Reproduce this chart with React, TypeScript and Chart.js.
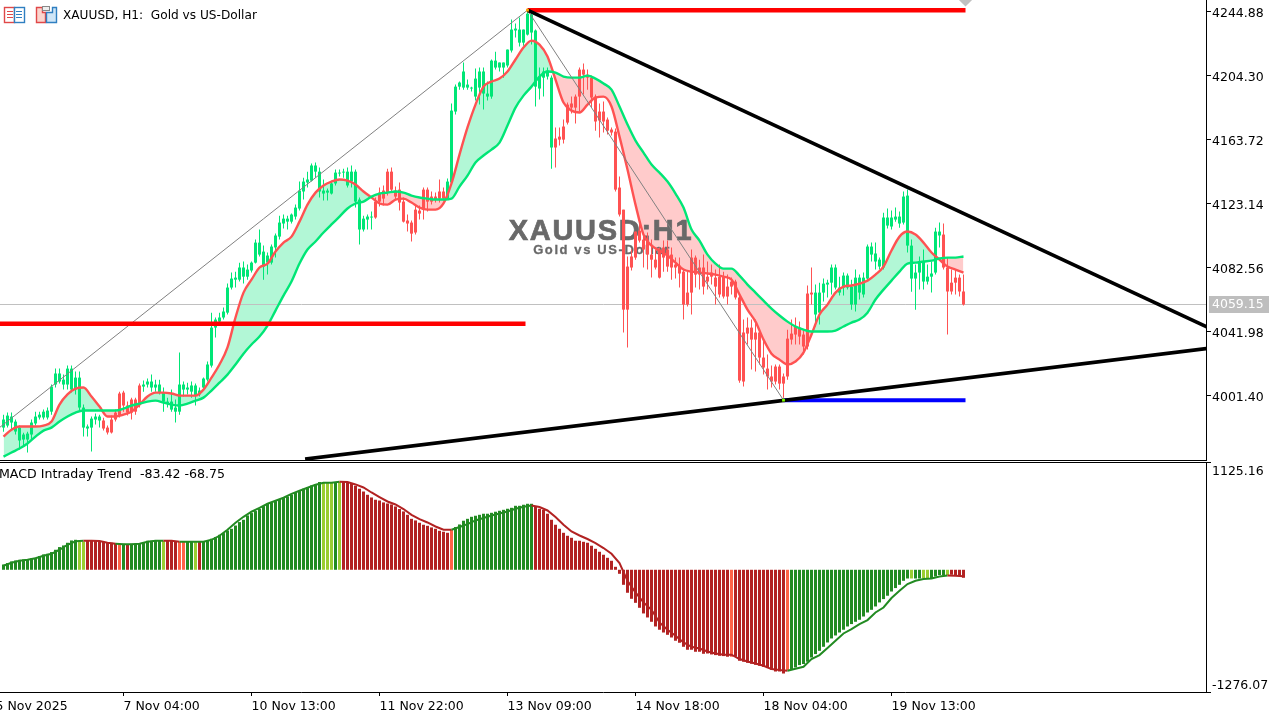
import React, { useEffect, useRef } from "react";
import { Chart, registerables } from "chart.js";

Chart.register(...registerables);

const candleHigh = [
3989.3,3990.6,3990.6,3986.2,3982.4,3977.9,3978.5,3986.2,3991.2,3991.2,
3992.5,3993.8,4008.4,4018.5,4018.5,4014.7,4020.4,4020.4,4016.6,4016.6,
3995.7,3983.0,3988.1,3990.0,3989.3,3987.4,3982.4,3988.7,3992.5,4003.9,
4004.5,3997.6,4000.1,4000.1,4009.0,4010.9,4012.2,4014.7,4011.5,4011.5,
4006.5,4000.1,4005.2,3998.9,4028.7,4010.3,4009.6,4010.3,4009.0,4006.5,
4012.8,4023.0,4054.0,4050.9,4054.0,4057.2,4072.4,4079.4,4080.0,4085.7,
4086.4,4084.5,4086.4,4100.3,4106.7,4096.5,4092.1,4097.2,4104.1,4115.5,
4116.2,4115.5,4116.8,4122.5,4137.1,4139.6,4143.4,4148.5,4149.2,4146.0,
4138.4,4132.7,4137.7,4144.7,4144.7,4145.3,4146.0,4147.3,4144.7,4127.0,
4115.5,4116.2,4118.1,4127.0,4133.3,4134.6,4145.3,4146.0,4134.0,4136.5,
4127.0,4116.2,4112.4,4122.5,4121.9,4133.3,4133.3,4130.8,4130.1,4138.4,
4133.3,4139.0,4186.6,4198.6,4200.5,4212.6,4201.8,4197.3,4208.8,4209.4,
4209.4,4200.5,4214.5,4219.5,4212.6,4212.6,4220.8,4239.8,4237.3,4241.1,
4233.5,4245.8,4243.6,4233.5,4209.4,4209.4,4209.4,4204.3,4171.4,4171.4,
4176.4,4187.2,4191.0,4192.3,4209.4,4211.9,4208.1,4204.3,4192.3,4186.6,
4187.8,4177.7,4171.4,4170.7,4140.3,4119.3,4089.6,4094.0,4105.4,4111.7,
4104.8,4104.8,4100.3,4094.0,4095.3,4099.7,4099.7,4095.3,4088.9,4088.9,
4081.3,4080.0,4094.0,4090.2,4087.6,4090.8,4086.4,4084.5,4081.3,4084.5,
4080.0,4078.1,4076.2,4074.9,4064.8,4049.6,4050.9,4049.6,4049.6,4043.2,
4036.9,4027.4,4020.4,4021.1,4021.1,4015.4,4043.2,4049.6,4050.9,4048.3,
4043.2,4071.2,4082.6,4071.8,4073.0,4075.6,4074.9,4084.5,4084.5,4076.8,
4079.4,4078.8,4074.9,4081.3,4078.1,4079.4,4097.2,4098.4,4098.4,4088.9,
4117.4,4120.0,4118.7,4120.6,4118.1,4130.8,4132.0,4100.3,4084.5,4089.6,
4094.0,4084.5,4086.4,4107.9,4111.1,4110.5,4088.9,4081.3,4081.3,4078.1,
4078.1];

const candleLow = [
3978.5,3981.1,3979.8,3976.7,3967.2,3969.1,3965.3,3973.5,3982.4,3986.2,
3986.2,3986.2,3989.3,4006.5,4009.0,4005.2,4005.2,4003.3,4002.1,3991.2,
3975.4,3975.4,3965.9,3983.0,3981.1,3979.2,3976.7,3977.3,3984.9,3987.5,
3991.2,3988.7,3986.2,3989.3,3993.8,4003.9,4006.5,4003.9,4003.9,4002.1,
3991.2,3993.8,3991.2,3984.3,3989.3,4000.8,4002.1,4000.1,3995.1,4000.8,
4005.2,4010.3,4019.2,4038.2,4046.4,4049.6,4052.8,4068.6,4069.9,4073.7,
4072.4,4074.9,4079.4,4085.1,4089.6,4074.9,4078.1,4084.5,4088.9,4100.3,
4107.3,4106.7,4110.5,4113.0,4118.7,4125.7,4133.3,4137.1,4139.6,4127.0,
4125.1,4125.1,4128.9,4134.6,4140.3,4139.6,4133.3,4133.3,4120.6,4097.2,
4105.4,4106.7,4106.7,4113.6,4121.3,4121.9,4128.2,4130.1,4125.7,4118.7,
4111.1,4105.4,4099.1,4103.5,4113.0,4113.0,4118.1,4122.5,4123.8,4123.8,
4125.1,4125.7,4134.6,4179.6,4195.4,4195.4,4195.4,4194.2,4188.5,4185.9,
4182.8,4188.5,4189.7,4208.1,4206.9,4203.0,4209.4,4218.9,4228.4,4222.7,
4223.3,4229.7,4224.0,4184.7,4189.1,4191.0,4201.8,4145.3,4146.0,4159.9,
4161.2,4173.3,4180.2,4173.9,4181.5,4192.3,4195.4,4184.0,4169.4,4165.0,
4168.2,4166.9,4166.3,4130.8,4114.9,4041.4,4031.9,4080.7,4087.6,4098.4,
4082.6,4081.3,4076.2,4081.3,4075.6,4080.0,4080.0,4074.9,4075.6,4069.9,
4049.6,4057.9,4052.8,4069.9,4068.6,4065.5,4068.6,4071.8,4059.1,4063.6,
4062.9,4059.1,4065.5,4062.3,4009.6,4007.1,4033.8,4017.9,4016.6,4021.1,
4014.7,4005.2,4006.5,4008.4,4005.2,4000.1,4011.5,4033.8,4033.8,4033.8,
4027.4,4030.6,4059.1,4045.2,4046.4,4061.0,4063.6,4065.5,4068.6,4064.8,
4064.8,4068.6,4055.9,4054.7,4062.3,4063.6,4074.3,4086.4,4081.3,4081.3,
4081.3,4107.3,4106.7,4111.7,4107.9,4109.9,4092.1,4067.3,4055.9,4068.6,
4068.6,4071.8,4066.7,4078.1,4095.3,4081.3,4040.1,4065.5,4065.5,4064.2,
4058.5];

const bodyHigh = [
3986.2,3988.7,3988.1,3984.9,3981.1,3976.7,3977.3,3984.3,3988.1,3989.3,
3991.2,3991.9,4007.1,4015.4,4015.4,4011.5,4018.5,4018.5,4012.8,4012.8,
3993.8,3981.8,3986.8,3988.1,3988.1,3985.6,3981.1,3986.2,3990.6,4002.7,
4003.3,3995.1,3998.9,3998.9,4007.8,4008.4,4010.3,4010.3,4008.4,4008.4,
4003.3,3997.6,3997.6,3993.8,4008.4,4008.4,4006.5,4007.8,4007.8,4004.6,
4012.2,4021.1,4044.5,4049.6,4050.9,4054.7,4069.9,4075.6,4076.2,4082.6,
4082.6,4081.3,4085.7,4098.4,4098.4,4092.7,4090.2,4095.9,4102.9,4111.1,
4113.6,4113.6,4116.2,4120.6,4131.4,4137.1,4138.4,4147.3,4147.3,4143.4,
4131.4,4131.4,4135.9,4142.8,4142.8,4143.4,4143.4,4143.4,4143.4,4125.7,
4113.6,4114.9,4114.9,4124.4,4130.1,4131.4,4143.4,4143.4,4131.4,4132.0,
4124.4,4112.4,4111.1,4119.3,4118.7,4132.0,4132.0,4127.6,4127.6,4130.8,
4130.8,4137.1,4182.1,4197.3,4199.9,4206.9,4198.6,4196.7,4202.4,4206.9,
4206.9,4192.9,4213.8,4213.8,4212.6,4212.6,4220.8,4233.5,4234.1,4233.5,
4233.5,4243.6,4243.0,4232.9,4203.7,4206.9,4207.5,4203.0,4164.4,4165.6,
4172.0,4185.9,4186.6,4191.0,4208.1,4208.1,4204.9,4203.0,4191.0,4181.5,
4181.5,4176.4,4170.1,4168.8,4133.3,4119.3,4083.2,4089.6,4105.4,4106.0,
4100.3,4100.3,4090.8,4087.6,4094.0,4095.3,4094.0,4090.8,4084.5,4083.8,
4080.0,4066.7,4088.9,4088.9,4082.6,4082.6,4076.8,4079.4,4076.2,4076.8,
4076.8,4070.5,4073.7,4073.7,4063.6,4041.4,4044.5,4044.5,4041.4,4041.4,
4025.5,4018.5,4013.5,4019.8,4019.8,4013.5,4037.5,4040.7,4045.2,4044.5,
4040.1,4066.1,4066.7,4066.7,4066.7,4072.4,4073.0,4082.6,4082.6,4069.9,
4077.5,4077.5,4070.5,4076.2,4076.2,4076.2,4095.9,4095.9,4091.5,4087.6,
4114.3,4114.3,4114.3,4114.9,4114.9,4127.6,4128.2,4096.5,4079.4,4086.4,
4086.4,4076.8,4078.8,4105.4,4105.4,4103.5,4082.6,4073.0,4076.2,4076.2,
4067.4];

const bodyLow = [
3981.1,3982.4,3984.3,3978.6,3972.9,3973.5,3973.5,3976.7,3983.7,3987.5,
3987.5,3987.5,3991.2,4008.4,4010.3,4008.4,4008.4,4005.2,4005.2,3993.8,
3981.1,3980.5,3981.1,3986.2,3985.6,3980.5,3978.0,3978.0,3986.2,3988.7,
3995.1,3990.6,3990.6,3991.2,3996.3,4007.1,4008.4,4006.5,4006.5,4003.3,
3997.6,3996.3,3992.5,3991.2,3991.2,4005.2,4005.2,4003.9,4001.4,4002.1,
4006.5,4011.5,4020.4,4044.5,4048.3,4050.9,4054.0,4069.9,4074.9,4074.9,
4076.8,4076.8,4080.7,4085.7,4090.8,4083.2,4085.7,4085.7,4095.3,4102.2,
4110.5,4111.7,4111.7,4114.9,4120.0,4130.8,4136.5,4137.7,4143.4,4130.8,
4129.5,4130.1,4129.5,4135.9,4142.2,4142.8,4134.6,4137.1,4124.4,4106.7,
4106.7,4113.0,4114.3,4114.3,4124.4,4126.3,4130.1,4132.0,4127.6,4123.8,
4111.7,4110.5,4104.1,4104.8,4116.8,4119.3,4124.4,4124.4,4125.7,4126.3,
4126.3,4126.3,4136.5,4181.5,4197.3,4196.7,4196.7,4196.1,4191.0,4196.7,
4192.9,4191.0,4191.0,4209.4,4209.4,4209.4,4210.7,4220.2,4232.9,4225.2,
4225.2,4230.3,4231.6,4197.3,4196.1,4203.0,4203.7,4158.7,4158.7,4163.7,
4163.7,4174.5,4184.0,4184.0,4191.0,4204.9,4203.0,4190.4,4175.2,4175.8,
4175.2,4169.4,4168.2,4132.0,4116.2,4055.9,4055.9,4082.6,4088.9,4099.7,
4094.0,4090.8,4087.6,4082.6,4076.2,4088.9,4083.2,4082.6,4082.6,4078.8,
4059.1,4059.1,4066.7,4078.1,4078.1,4070.5,4073.7,4076.8,4070.5,4065.5,
4064.2,4064.2,4070.5,4063.6,4010.9,4010.3,4040.7,4036.9,4036.9,4025.5,
4019.2,4013.5,4010.3,4010.3,4009.0,4009.0,4013.5,4036.9,4040.1,4038.8,
4032.5,4032.5,4065.5,4052.8,4054.0,4066.7,4071.8,4073.0,4069.9,4066.7,
4069.9,4069.9,4059.1,4059.1,4066.7,4065.5,4075.6,4090.8,4086.4,4083.2,
4082.6,4109.2,4108.6,4113.0,4110.5,4111.1,4096.5,4075.6,4075.6,4079.4,
4073.7,4073.7,4076.8,4079.4,4102.9,4082.6,4067.4,4067.4,4073.0,4067.4,
4059.15];

// trend colouring of the candles, as [tone, bar count]
const candleRuns: [string, number][] = [
  ["up", 25], ["down", 10], ["up", 58], ["down", 18], ["up", 27], ["down", 65], ["up", 32], ["down", 6],
];

// moving averages, read at every second bar
const fastMA = [
3975.4,3979.8,3981.8,3981.8,3981.8,3982.4,3984.9,3995.7,4002.1,4005.8,
4006.5,4000.8,3994.4,3988.1,3988.1,3989.3,3991.2,3995.7,4000.8,4003.3,
4003.3,4002.7,4001.4,4001.4,4001.4,4005.2,4012.8,4021.1,4031.9,4050.9,
4066.7,4074.9,4082.6,4085.1,4092.7,4098.4,4102.2,4111.7,4122.5,4130.1,
4134.6,4137.1,4138.4,4137.7,4135.2,4130.8,4127.0,4123.2,4122.5,4125.7,
4126.3,4123.8,4120.6,4119.3,4119.3,4123.2,4135.9,4154.2,4171.4,4185.9,
4197.3,4200.5,4202.4,4206.9,4214.5,4222.1,4226.5,4224.0,4216.4,4201.8,
4187.2,4182.1,4180.9,4185.9,4190.4,4191.0,4184.7,4165.6,4144.7,4122.5,
4103.5,4096.5,4093.4,4090.2,4085.7,4081.3,4080.0,4079.4,4078.8,4078.1,
4076.8,4074.9,4065.5,4055.9,4048.3,4036.9,4028.0,4024.2,4021.1,4023.0,
4028.7,4040.1,4052.8,4059.1,4066.7,4070.5,4071.2,4072.4,4074.3,4078.1,
4083.2,4093.4,4102.2,4105.4,4103.5,4098.4,4092.1,4087.6,4083.2,4081.3,
4079.4];

const slowMA = [
3962.7,3965.3,3967.8,3971.0,3975.4,3979.2,3981.1,3984.9,3988.1,3990.6,
3991.9,3991.9,3991.9,3991.9,3991.9,3993.1,3995.1,3996.3,3997.6,3998.2,
3997.0,3995.7,3995.1,3996.3,3998.2,4000.1,4004.6,4009.6,4014.7,4021.1,
4028.0,4033.8,4038.8,4045.8,4055.3,4064.8,4073.7,4085.1,4094.0,4099.1,
4104.8,4109.9,4114.9,4120.0,4123.2,4124.4,4127.6,4129.5,4130.1,4130.8,
4130.1,4128.2,4127.0,4126.3,4125.7,4125.7,4126.3,4133.9,4140.9,4149.2,
4153.6,4157.4,4161.8,4172.6,4184.0,4191.6,4197.3,4203.7,4206.9,4206.2,
4203.7,4203.0,4203.0,4204.3,4202.4,4199.3,4195.4,4184.7,4173.3,4163.1,
4155.5,4147.9,4142.8,4137.1,4129.5,4120.6,4106.7,4099.7,4090.8,4085.1,
4081.9,4081.9,4077.5,4071.8,4066.7,4061.6,4056.6,4052.2,4048.3,4045.2,
4043.2,4042.0,4042.0,4042.0,4042.6,4045.2,4047.7,4049.6,4054.0,4062.3,
4068.6,4074.3,4080.0,4085.1,4085.7,4086.4,4087.0,4088.3,4088.9,4088.9,
4089.6];

const macdHist = [
55,70,87,97,104,108,108,118,125,143,
160,167,185,209,237,254,282,306,313,306,
295,303,303,300,295,292,289,282,277,271,
271,266,271,271,279,289,303,303,306,306,
300,303,303,300,292,292,292,292,289,292,
295,306,324,341,365,383,410,428,462,498,
522,567,592,613,637,665,689,699,717,731,
752,765,786,804,822,846,863,880,891,916,
916,905,908,916,916,916,911,905,877,846,
817,783,755,731,723,703,692,682,661,634,
609,574,532,515,491,470,459,442,428,407,
397,386,418,446,473,512,532,553,564,574,
585,585,595,606,616,626,637,647,668,668,
679,689,689,661,637,626,585,522,470,428,
386,355,334,303,303,292,282,251,219,188,
157,125,94,31,-42,-157,-240,-303,-345,-397,
-456,-498,-543,-592,-626,-655,-679,-707,-741,-762,
-804,-835,-835,-856,-856,-877,-874,-884,-891,-898,
-901,-908,-908,-908,-950,-960,-971,-981,-992,-1002,
-1013,-1026,-1044,-1062,-1062,-1083,-1047,-1037,-1020,-995,
-984,-960,-916,-880,-846,-804,-759,-717,-686,-655,
-626,-592,-567,-543,-522,-488,-446,-418,-383,-341,
-306,-271,-227,-191,-157,-115,-91,-91,-91,-91,
-91,-91,-91,-70,-55,-55,-55,-52,-55,-63,
-83.42];

const macdRuns: [string, number][] = [
  ["g",19],["l",2],["r",8],["o",1],["g",1],["r",1],["g",8],["l",1],["r",3],["o",2],["g",2],["l",1],["r",1],
  ["g",30],["l",3],["g",1],["l",1],["r",27],["o",1],["g",20],["r",49],["o",1],["r",13],["o",1],["g",30],
  ["l",1],["g",2],["l",2],["g",4],["l",1],["r",4],
];

// signal line, read at every second bar
const macdSignal = [
42,73,94,104,120,146,167,209,261,298,
303,303,300,282,271,266,266,271,292,303,
303,303,292,292,292,292,313,355,418,491,
553,606,647,689,720,752,793,825,856,887,
908,908,919,916,891,859,807,759,713,682,
634,574,529,494,452,418,418,446,477,515,
540,567,588,609,637,658,671,655,619,550,
470,400,358,321,279,227,167,70,-115,-237,
-341,-418,-550,-626,-689,-759,-804,-822,-853,-874,
-887,-887,-932,-957,-978,-1002,-1037,-1047,-1054,-1034,
-1013,-932,-891,-817,-741,-665,-619,-567,-525,-446,
-394,-295,-219,-149,-115,-97,-91,-70,-60,-63,
-68.75];

const timeTicks = [-2, 30, 62, 94, 126, 158, 190, 222];
const timeLabels = ["5 Nov 2025", "7 Nov 04:00", "10 Nov 13:00", "11 Nov 22:00", "13 Nov 09:00", "14 Nov 18:00", "18 Nov 04:00", "19 Nov 13:00"];
const priceTicks = [4001.40, 4041.98, 4082.56, 4123.14, 4163.72, 4204.30, 4244.88];
const macdTicks = [1125.16, -1276.07];
const lastPrice = 4059.15;

// drawn objects on the price pane: [bar, price] ends
const swingUp: [number, number][] = [[-1, 3981.1], [131, 4245.8]];
const swingDown: [number, number][] = [[131, 4245.8], [195, 3998.5]];
const resistance: [number, number][] = [[131, 4245.8], [302, 4043.6]];
const support: [number, number][] = [[75.4, 3961.1], [300.7, 4031.2]];
const topLevel: [number, number][] = [[131, 4245.8], [240.5, 4245.8]];
const midLevel: [number, number][] = [[-1, 4046.9], [130.5, 4046.9]];
const lowLevel: [number, number][] = [[195, 3998.5], [240.5, 3998.5]];
const priceLine: [number, number][] = [[-1, lastPrice], [301, lastPrice]];
const levelAnchor: [number, number][] = [[240.5, 4252.5]];
const peakAnchor: [number, number][] = [[131, 4245.8]];
const troughAnchor: [number, number][] = [[195, 3998.5]];

const COL_UP = "#00E676";
const COL_DOWN = "#FF5252";
const TONES: Record<string, string> = { g: "#228B22", l: "#9ACD32", r: "#B22222", o: "#FF6347" };
const FONT = '"DejaVu Sans"';
const X_MIN = -0.875;
const X_MAX = 300.625;
const AXIS_W = 76;

const expand = (runs: [string, number][]) => runs.flatMap(([t, n]) => Array.from({ length: n }, () => t));
const pts = (a: [number, number][]) => a.map(([x, y]) => ({ x, y }));
const secondBar = (values: number[]) => values.map((y, i) => ({ x: i * 2, y }));

function shapeAxis(width: number) {
  return (s: any) => {
    s.width = width;
    s.paddingTop = 0;
    s.paddingBottom = 0;
  };
}

const flatLine = (data: [number, number][], color: string, width: number, order: number, extra: any = {}) => ({
  type: "line",
  data: pts(data),
  borderColor: color,
  backgroundColor: color,
  borderWidth: width,
  pointRadius: 0,
  order,
  ...extra,
});

const mark = (data: [number, number][], color: string, style: string, radius: number, order: number) => ({
  type: "line",
  data: pts(data),
  showLine: false,
  clip: false,
  pointStyle: style,
  pointRadius: radius,
  pointBackgroundColor: color,
  pointBorderWidth: 0,
  order,
});

const pricePlugin = {
  id: "priceDecor",
  beforeDatasetsDraw(chart: any) {
    const { ctx } = chart;
    ctx.save();
    ctx.fillStyle = "#696969";
    ctx.strokeStyle = "#696969";
    ctx.textAlign = "center";
    ctx.textBaseline = "alphabetic";
    ctx.font = "bold 29px 'Liberation Sans'";
    ctx.letterSpacing = "1.7px";
    ctx.lineWidth = 0.7;
    ctx.fillText("XAUUSD:H1", 601, 240);
    ctx.strokeText("XAUUSD:H1", 601, 240);
    ctx.font = "bold 13px 'Liberation Sans'";
    ctx.letterSpacing = "1.6px";
    ctx.lineWidth = 0.3;
    ctx.fillText("Gold vs US-Dollar", 602, 254);
    ctx.strokeText("Gold vs US-Dollar", 602, 254);
    ctx.restore();
  },
  afterDraw(chart: any) {
    const { ctx, scales } = chart;
    ctx.save();
    ctx.fillStyle = "#000";
    ctx.fillRect(0, 460, 1206, 1);
    ctx.font = `12.15px ${FONT}`;
    ctx.textBaseline = "middle";
    ctx.textAlign = "left";
    ctx.fillText("XAUUSD, H1:  Gold vs US-Dollar", 63, 16);
    const py = scales.y.getPixelForValue(lastPrice);
    ctx.fillStyle = "#BEBEBE";
    ctx.fillRect(1209, 296, 60, 17);
    ctx.fillStyle = "#fff";
    ctx.font = `12.5px ${FONT}`;
    ctx.fillText(lastPrice.toFixed(2), 1212, py + 0.5);
    ctx.restore();
  },
};

const macdPlugin = {
  id: "macdDecor",
  afterDraw(chart: any) {
    const { ctx } = chart;
    ctx.save();
    ctx.fillStyle = "#000";
    ctx.fillRect(0, 1, 1206, 1);
    ctx.font = `12.6px ${FONT}`;
    ctx.textBaseline = "middle";
    ctx.textAlign = "left";
    ctx.fillText("MACD Intraday Trend  -83.42 -68.75", -1, 14);
    ctx.restore();
  },
};

export default function App() {
  const topRef = useRef<HTMLCanvasElement>(null);
  const botRef = useRef<HTMLCanvasElement>(null);

  useEffect(() => {
    const bars = candleHigh.map((_, i) => i);
    const tones = expand(candleRuns);
    const candleColors = tones.map((t) => (t === "up" ? COL_UP : COL_DOWN));
    const top = new Chart(topRef.current as any, {
      type: "bar",
      data: {
        datasets: [
          flatLine([], COL_DOWN, 2.4, 3, {
            data: secondBar(fastMA),
            cubicInterpolationMode: "monotone",
            fill: { target: 1, above: "rgba(0,230,118,0.30)", below: "rgba(255,82,82,0.30)" },
          }),
          flatLine([], COL_UP, 2.4, 2.9, { data: secondBar(slowMA), cubicInterpolationMode: "monotone" }),
          {
            type: "bar",
            data: bars.map((i) => ({ x: i, y: [candleLow[i], candleHigh[i]] })),
            backgroundColor: candleColors,
            grouped: false,
            barThickness: 1,
            maxBarThickness: 1,
            inflateAmount: 0,
            borderWidth: 0,
            order: 5,
          },
          {
            type: "bar",
            data: bars.map((i) => ({ x: i, y: [bodyLow[i], bodyHigh[i]] })),
            backgroundColor: candleColors,
            grouped: false,
            barThickness: 3,
            maxBarThickness: 3,
            inflateAmount: 0,
            borderWidth: 0,
            order: 4,
          },
          flatLine(priceLine, "#C0C0C0", 1, 6),
          flatLine(swingUp, "#808080", 1, 2.5),
          flatLine(swingDown, "#808080", 1, 2.5),
          flatLine(midLevel, "#FF0000", 4.5, 2),
          flatLine(topLevel, "#FF0000", 4.5, 2),
          flatLine(lowLevel, "#0000FF", 4, 2),
          flatLine(resistance, "#000000", 3.6, 1),
          flatLine(support, "#000000", 3.6, 1),
          mark(levelAnchor, "#C0C0C0", "rectRot", 7, 0.5),
          mark(peakAnchor, "#FFA500", "rect", 2, 0.5),
          mark(troughAnchor, "#7FFF00", "rect", 2, 0.5),
        ] as any,
      },
      options: {
        animation: false,
        responsive: false,
        devicePixelRatio: 1,
        events: [],
        layout: { autoPadding: false, padding: { bottom: 1, left: 0, right: 0, top: 0 } },
        plugins: { legend: { display: false }, tooltip: { enabled: false }, filler: { drawTime: "beforeDatasetsDraw" } },
        scales: {
          x: { type: "linear", display: false, min: X_MIN, max: X_MAX, offset: false, grid: { offset: false } },
          y: {
            position: "right",
            min: 3960.55,
            max: 4252.24,
            afterBuildTicks: (s: any) => { s.ticks = priceTicks.map((value) => ({ value })); },
            afterFit: shapeAxis(AXIS_W),
            border: { color: "#000", width: 1 },
            grid: { drawOnChartArea: false, drawTicks: true, tickLength: 5, tickColor: "#000" },
            ticks: {
              color: "#000",
              padding: 1,
              autoSkip: false,
              font: { family: FONT, size: 12.5, lineHeight: "4px" },
              callback: (v: any) => ["", Number(v).toFixed(2)],
            },
          },
        },
      } as any,
      plugins: [pricePlugin],
    });

    const macdTones = expand(macdRuns);
    const bot = new Chart(botRef.current as any, {
      type: "bar",
      data: {
        datasets: [
          {
            type: "line",
            data: secondBar(macdSignal),
            borderWidth: 2,
            pointRadius: 0,
            borderColor: TONES.g,
            order: 1,
            segment: {
              borderColor: (c: any) => {
                const t = macdTones[c.p1DataIndex * 2];
                return t === "g" || t === "l" ? TONES.g : TONES.r;
              },
            },
          },
          {
            type: "bar",
            data: macdHist.map((y, x) => ({ x, y })),
            backgroundColor: macdTones.map((t) => TONES[t]),
            grouped: false,
            barThickness: 3,
            maxBarThickness: 3,
            inflateAmount: 0,
            borderWidth: 0,
            order: 2,
          },
        ] as any,
      },
      options: {
        animation: false,
        responsive: false,
        devicePixelRatio: 1,
        events: [],
        layout: { autoPadding: false, padding: { top: 1, left: 0, right: 0, bottom: 0 } },
        plugins: { legend: { display: false }, tooltip: { enabled: false } },
        scales: {
          x: {
            type: "linear",
            min: X_MIN,
            max: X_MAX,
            offset: false,
            afterBuildTicks: (s: any) => { s.ticks = timeTicks.map((value) => ({ value })); },
            afterFit: (s: any) => { s.height = 26; s.paddingLeft = 0; s.paddingRight = 0; },
            border: { color: "#000", width: 1 },
            grid: { offset: false, drawOnChartArea: false, drawTicks: true, tickLength: 4, tickColor: "#000" },
            ticks: {
              color: "#000",
              align: "start",
              autoSkip: false,
              maxRotation: 0,
              padding: 3,
              font: { family: FONT, size: 12.5 },
              callback: (v: any) => timeLabels[timeTicks.indexOf(Number(v))],
            },
          },
          y: {
            position: "right",
            min: -1276.07,
            max: 1125.16,
            afterBuildTicks: (s: any) => { s.ticks = macdTicks.map((value) => ({ value })); },
            afterFit: shapeAxis(AXIS_W),
            border: { color: "#000", width: 1 },
            grid: { drawOnChartArea: false, drawTicks: true, tickLength: 5, tickColor: "#000" },
            ticks: {
              color: "#000",
              padding: 1,
              autoSkip: false,
              font: (c: any) => ({ family: FONT, size: 12.5, lineHeight: c.tick && c.tick.value > 0 ? "20px" : "12px" }),
              callback: (v: any) => {
                const text = Number(v).toFixed(2);
                return Number(v) > 0 ? ["", text] : [text, ""];
              },
            },
          },
        },
      } as any,
      plugins: [macdPlugin],
    });
    return () => {
      top.destroy();
      bot.destroy();
    };
  }, []);

  const iconBox: React.CSSProperties = { position: "absolute", top: 6 };
  return (
    <div style={{ position: "absolute", left: 0, top: 0, width: 1282, height: 718, background: "#fff", overflow: "hidden" }}>
      <canvas ref={topRef} width={1282} height={461} style={{ position: "absolute", left: 0, top: 0 }} />
      <canvas ref={botRef} width={1282} height={257} style={{ position: "absolute", left: 0, top: 461 }} />
      <svg width={24} height={18} style={{ ...iconBox, left: 3 }}>
        <rect x={1.5} y={1.5} width={10} height={15} fill="#fff" stroke="#E04848" strokeWidth={1.4} />
        <rect x={11.5} y={1.5} width={10} height={15} fill="#fff" stroke="#2F7FC1" strokeWidth={1.4} />
        <path d="M4 5.5h6M4 8.5h6M4 11.5h6" stroke="#E04848" />
        <path d="M13 5.5h6M13 8.5h6M13 11.5h6" stroke="#2F7FC1" />
      </svg>
      <svg width={24} height={18} style={{ ...iconBox, left: 35 }}>
        <path d="M1.5 1.5h6v5h3v10h-9z" fill="#FBD5CE" stroke="#E04848" strokeWidth={1.4} />
        <path d="M14.5 6.5h3v-5h4v15h-10v-10z" fill="#CFE6F7" stroke="#2F7FC1" strokeWidth={1.4} />
        <rect x={7.5} y={0.5} width={7} height={4} fill="#eee" stroke="#888" />
      </svg>
    </div>
  );
}
